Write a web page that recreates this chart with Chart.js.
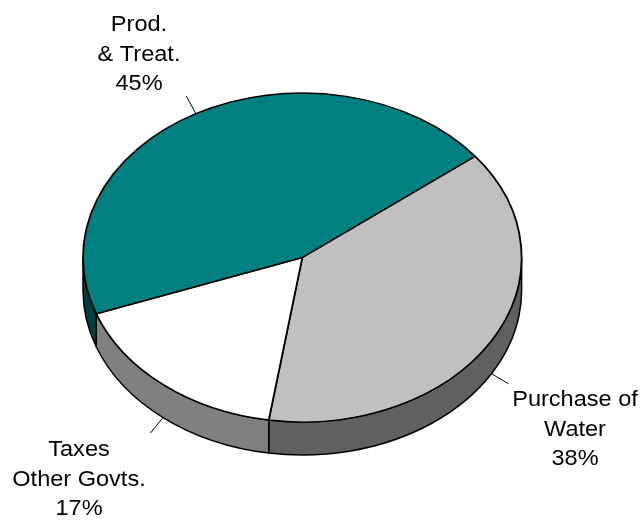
<!DOCTYPE html>
<html>
<head>
<meta charset="utf-8">
<script src="https://cdn.jsdelivr.net/npm/chart.js@4"></script>
<style>
  html, body { margin: 0; padding: 0; background: #ffffff; }
  #wrap { width: 644px; height: 523px; }
</style>
</head>
<body>
<div id="wrap"><canvas id="c" width="644" height="523"></canvas></div>
<script>
// Cost breakdown by category (percent of total)
const categories = ['Purchase of Water', 'Taxes Other Govts.', 'Prod. & Treat.'];
const shares = [38, 17, 45];
const labelLines = [['Purchase of', 'Water'], ['Taxes', 'Other Govts.'], ['Prod.', '& Treat.']];
const topColors = ['#C0C0C0', '#FFFFFF', '#008080'];
const sideColors = ['#606060', '#808080', '#004040'];

// 3D look: vertical squash of the top face and thickness of the disc
const TILT = 0.75;
const DEPTH = 33;
const PIE_RADIUS = 219.3;

// Label block placement: centre x and first baseline
const labelAnchors = [
  { x: 575, y: 406 },
  { x: 79,  y: 456 },
  { x: 139, y: 31 }
];
const LINE_H = 29.5;
const TEXT_STRETCH = 1.07;

const pie3d = {
  id: 'pie3d',
  beforeDatasetsDraw(chart) {
    const ctx = chart.ctx;
    const arcs = chart.getDatasetMeta(0).data;
    const cx = arcs[0].x, cy = arcs[0].y, r = arcs[0].outerRadius;
    // side walls of the front half of the disc
    ctx.save();
    ctx.lineWidth = 1.5;
    ctx.strokeStyle = '#000000';
    ctx.lineJoin = 'round';
    arcs.forEach((arc, i) => {
      for (let k = -1; k <= 1; k++) {
        const lo = Math.max(arc.startAngle, 2 * Math.PI * k);
        const hi = Math.min(arc.endAngle, 2 * Math.PI * k + Math.PI);
        if (hi - lo > 1e-6) {
          ctx.beginPath();
          ctx.ellipse(cx, cy, r, r * TILT, 0, lo, hi, false);
          ctx.ellipse(cx, cy + DEPTH, r, r * TILT, 0, hi, lo, true);
          ctx.closePath();
          ctx.fillStyle = sideColors[i];
          ctx.fill();
          ctx.stroke();
        }
      }
    });
    ctx.restore();
    // squash the flat pie into an ellipse for the top face
    ctx.save();
    ctx.translate(cx, cy);
    ctx.scale(1, TILT);
    ctx.translate(-cx, -cy);
  },
  afterDatasetsDraw(chart) {
    const ctx = chart.ctx;
    ctx.restore();
    const arcs = chart.getDatasetMeta(0).data;
    const cx = arcs[0].x, cy = arcs[0].y, r = arcs[0].outerRadius;
    ctx.save();
    arcs.forEach((arc, i) => {
      const mid = (arc.startAngle + arc.endAngle) / 2;
      const c = Math.cos(mid), s = Math.sin(mid);
      const px = cx + r * c;
      const py = cy + r * TILT * s + (s > 0 ? DEPTH : 0);
      ctx.beginPath();
      ctx.moveTo(px, py);
      ctx.lineTo(px + 20 * c, py + 20 * s);
      ctx.strokeStyle = '#000000';
      ctx.lineWidth = 1;
      ctx.stroke();

      const lines = [...labelLines[i], shares[i] + '%'];
      const a = labelAnchors[i];
      ctx.fillStyle = '#000000';
      ctx.font = '22px "Liberation Sans", Arial, sans-serif';
      ctx.textAlign = 'center';
      ctx.textBaseline = 'alphabetic';
      lines.forEach((t, j) => {
        ctx.save();
        ctx.translate(a.x, a.y + j * LINE_H);
        ctx.scale(TEXT_STRETCH, 1);
        ctx.fillText(t, 0, 0);
        ctx.restore();
      });
    });
    ctx.restore();
  }
};

new Chart(document.getElementById('c'), {
  type: 'pie',
  data: {
    labels: categories,
    datasets: [{
      data: shares,
      backgroundColor: topColors,
      borderColor: '#000000',
      borderWidth: 1.8,
      clip: false
    }]
  },
  options: {
    responsive: false,
    devicePixelRatio: 1,
    animation: false,
    rotation: 52,
    radius: PIE_RADIUS,
    layout: { padding: { left: 0, right: 39.4, top: 0, bottom: 8 } },
    plugins: {
      legend: { display: false },
      tooltip: { enabled: false }
    },
    events: []
  },
  plugins: [pie3d]
});
</script>
</body>
</html>
